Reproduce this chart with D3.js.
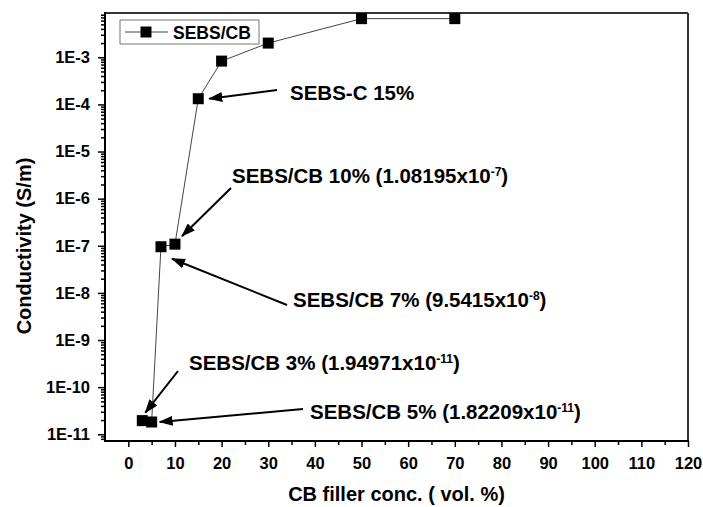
<!DOCTYPE html>
<html><head><meta charset="utf-8">
<script src="https://cdn.jsdelivr.net/npm/d3@7"></script>
<style>
body{margin:0;background:#fff}
svg{display:block}
text{font-family:"Liberation Sans",Arial,Helvetica,sans-serif;font-weight:bold;fill:#000}
</style>
</head><body><svg id="c" width="703" height="507"></svg>
<script>
// ---- data ----
const fillerConc = [3, 5, 7, 10, 15, 20, 30, 50, 70];
const conductivity = [1.94971e-11, 1.82209e-11, 9.5415e-8, 1.08195e-7, 1.32e-4, 8.3e-4, 2.0e-3, 6.6e-3, 6.6e-3];
const seriesName = "SEBS/CB";
const xTickValues = [0, 10, 20, 30, 40, 50, 60, 70, 80, 90, 100, 110, 120];
const xTickLabels = ["0", "10", "20", "30", "40", "50", "60", "70", "80", "90", "100", "110", "120"];
const yTickValues = [1e-11, 1e-10, 1e-9, 1e-8, 1e-7, 1e-6, 1e-5, 1e-4, 1e-3];
const yTickLabels = ["1E-11", "1E-10", "1E-9", "1E-8", "1E-7", "1E-6", "1E-5", "1E-4", "1E-3"];
const annotationIndex = [4, 3, 2, 0, 1];
const annotationText = ["SEBS-C 15%", "SEBS/CB 10% (1.08195x10", "SEBS/CB 7% (9.5415x10", "SEBS/CB 3% (1.94971x10", "SEBS/CB 5% (1.82209x10"];
const annotationExp = [null, "-7", "-8", "-11", "-11"];
const xTitle = "CB filler conc. ( vol. %)";
const yTitle = "Conductivity (S/m)";

// ---- layout (pixels) ----
const L = 105, R = 688, T = 13, B = 441;
const annLayout = [
  {tx: 290, ty: 100, tail: [277, 90],  hd: [11, 0]},
  {tx: 232, ty: 183, tail: [231, 188], hd: [7, -8]},
  {tx: 293, ty: 307, tail: [287, 305], hd: [11, 12]},
  {tx: 189, ty: 370, tail: [178, 371], hd: [3, -8]},
  {tx: 310, ty: 419, tail: [303, 409], hd: [8, 0]}
];

const svg = d3.select("#c");
const x = d3.scaleLinear().domain([-5, 120]).range([L, R]);
const y = d3.scaleLog().domain([7.2e-12, 8.7e-3]).range([B, T]);

svg.append("defs").append("marker")
  .attr("id", "ah").attr("markerUnits", "userSpaceOnUse")
  .attr("markerWidth", 14).attr("markerHeight", 10)
  .attr("refX", 13).attr("refY", 5).attr("orient", "auto")
  .append("path").attr("d", "M0,0 L14,5 L0,10 Z").attr("fill", "#000");

const xAxis = d3.axisBottom(x).tickValues(xTickValues)
  .tickFormat((d, i) => xTickLabels[i]).tickSize(6).tickPadding(10);
svg.append("g").attr("transform", `translate(0,${B})`).call(xAxis);
const xMinor = d3.range(5, 120, 10);
svg.append("g").attr("transform", `translate(0,${B})`)
  .call(d3.axisBottom(x).tickValues(xMinor).tickFormat("").tickSize(4));

const yAxis = d3.axisLeft(y).tickValues(yTickValues)
  .tickFormat((d, i) => yTickLabels[i]).tickSize(7).tickPadding(8);
svg.append("g").attr("transform", `translate(${L},0)`).call(yAxis);
const yMinor = [];
for (let e = -12; e <= -3; e++) for (let k = 2; k <= 9; k++) {
  const v = k * Math.pow(10, e);
  if (v >= y.domain()[0] && v <= y.domain()[1]) yMinor.push(v);
}
svg.append("g").attr("transform", `translate(${L},0)`)
  .call(d3.axisLeft(y).tickValues(yMinor).tickFormat("").tickSize(4));

svg.selectAll(".domain").remove();
svg.selectAll(".tick line").attr("stroke", "#000").attr("stroke-width", 1.5);
svg.selectAll(".tick text").style("font-size", "16.5px").style("font-family", "'Liberation Sans',Arial,sans-serif").style("font-weight", "bold").attr("fill", "#000");

svg.append("line").attr("x1", L).attr("x2", R).attr("y1", T).attr("y2", T).attr("stroke", "#333").attr("stroke-width", 2);
svg.append("line").attr("x1", R).attr("x2", R).attr("y1", T).attr("y2", B).attr("stroke", "#333").attr("stroke-width", 2);
svg.append("line").attr("x1", L).attr("x2", L).attr("y1", T - 1).attr("y2", B + 1).attr("stroke", "#000").attr("stroke-width", 2);
svg.append("line").attr("x1", L - 1).attr("x2", R + 1).attr("y1", B).attr("y2", B).attr("stroke", "#000").attr("stroke-width", 2);

const pts = fillerConc.map((c, i) => [c, conductivity[i]]);
svg.append("path").datum(pts)
  .attr("d", d3.line().x(d => x(d[0])).y(d => y(d[1])))
  .attr("fill", "none").attr("stroke", "#444").attr("stroke-width", 1);
const ms = 11;
svg.selectAll("rect.pt").data(pts).enter().append("rect").attr("class", "pt")
  .attr("x", d => x(d[0]) - ms / 2).attr("y", d => y(d[1]) - ms / 2)
  .attr("width", ms).attr("height", ms).attr("fill", "#000");

const lg = svg.append("g");
lg.append("rect").attr("x", 120).attr("y", 20).attr("width", 139).attr("height", 24)
  .attr("fill", "#fff").attr("stroke", "#777").attr("stroke-width", 1);
lg.append("line").attr("x1", 125).attr("x2", 168).attr("y1", 32).attr("y2", 32).attr("stroke", "#444").attr("stroke-width", 1);
lg.append("rect").attr("x", 146 - ms / 2).attr("y", 32 - ms / 2).attr("width", ms).attr("height", ms).attr("fill", "#000");
lg.append("text").attr("x", 173).attr("y", 39).style("font-size", "17.5px").text(seriesName);

annotationIndex.forEach((idx, k) => {
  const a = annLayout[k];
  const px = x(fillerConc[idx]), py = y(conductivity[idx]);
  svg.append("line").attr("x1", a.tail[0]).attr("y1", a.tail[1])
    .attr("x2", px + a.hd[0]).attr("y2", py + a.hd[1])
    .attr("stroke", "#000").attr("stroke-width", 2).attr("marker-end", "url(#ah)");
  const t = svg.append("text").attr("x", a.tx).attr("y", a.ty).style("font-size", "20.5px");
  t.append("tspan").text(annotationText[k]);
  if (annotationExp[k]) {
    t.append("tspan").attr("dy", -7.5).style("font-size", "12px").text(annotationExp[k]);
    t.append("tspan").attr("dy", 7.5).text(")");
  }
});

svg.append("text").attr("x", 396.5).attr("y", 501).attr("text-anchor", "middle")
  .style("font-size", "20px").text(xTitle);
svg.append("text").attr("transform", "translate(31,246) rotate(-90)").attr("text-anchor", "middle")
  .style("font-size", "20px").text(yTitle);
</script>
</body></html>
